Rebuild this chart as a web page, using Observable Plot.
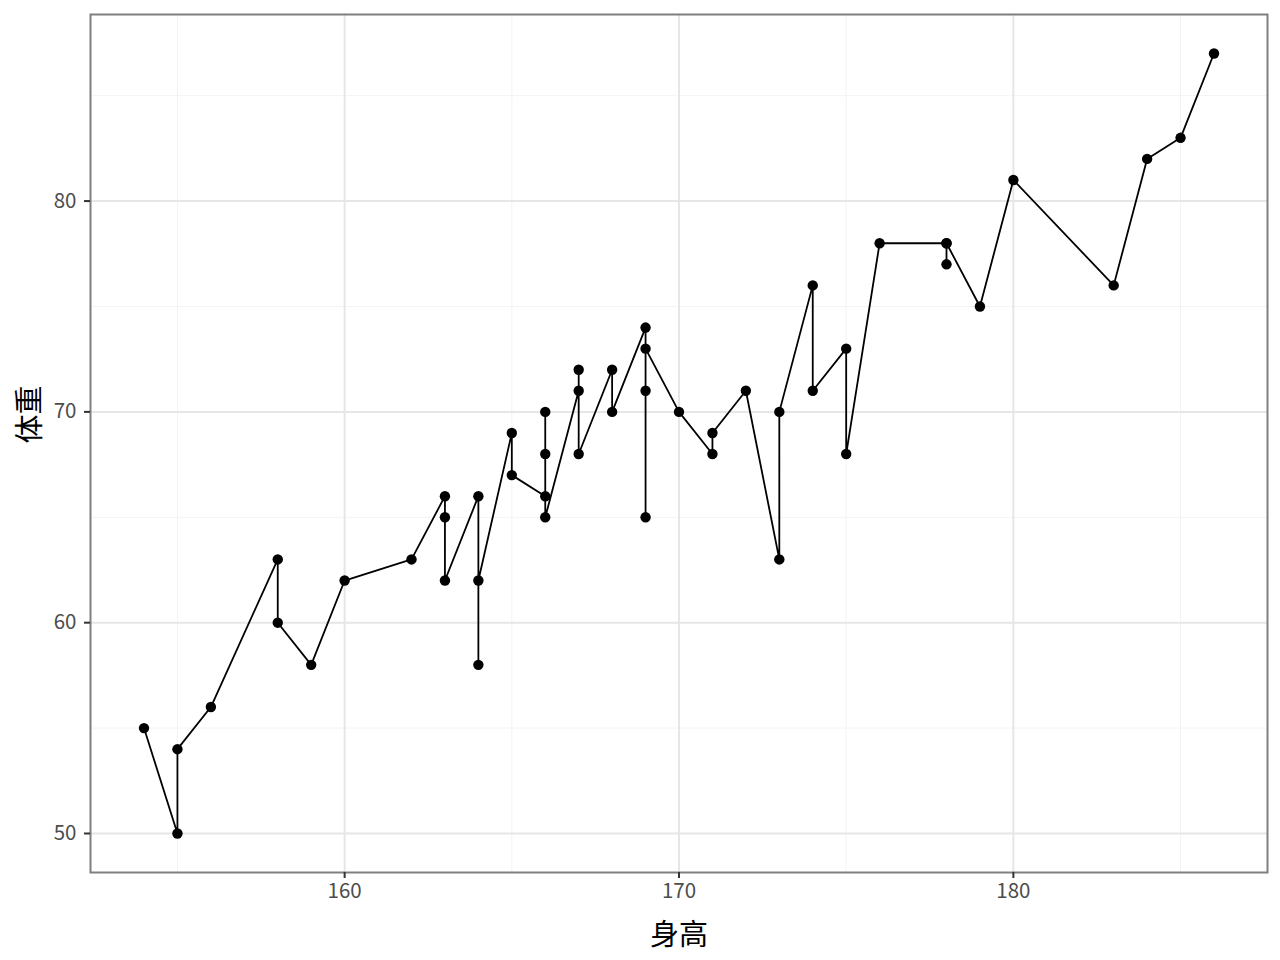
<!DOCTYPE html>
<html>
<head>
<meta charset="utf-8">
<script src="https://cdn.jsdelivr.net/npm/d3@7"></script>
<script src="https://cdn.jsdelivr.net/npm/@observablehq/plot@0.6"></script>
<style>
  html, body { margin: 0; padding: 0; background: #fff; }
  #chart { width: 1280px; height: 960px; }
</style>
</head>
<body>
<div id="chart"></div>
<script>
// 身高 (height) and 体重 (weight), in drawing order
const heights = [154,155,155,156,158,158,159,160,162,163,163,163,164,164,164,165,165,166,166,166,166,167,167,167,168,168,169,169,169,169,170,171,171,172,173,173,174,174,175,175,176,178,178,178,179,180,183,184,185,186];
const weights = [55,50,54,56,63,60,58,62,63,66,65,62,66,58,62,69,67,66,70,68,65,71,72,68,72,70,74,65,71,73,70,68,69,71,63,70,76,71,73,68,78,78,77,78,75,81,76,82,83,87];

const xMajor = [160, 170, 180];
const xMinor = [155, 165, 175, 185];
const yMajor = [50, 60, 70, 80];
const yMinor = [55, 65, 75, 85];
const xTitle = "身高";
const yTitle = "体重";

const data = heights.map((h, i) => ({h, w: weights[i]}));

const xExt = d3.extent(heights), yExt = d3.extent(weights);
const xPad = (xExt[1] - xExt[0]) * 0.05, yPad = (yExt[1] - yExt[0]) * 0.05;

const font = "'Noto Sans CJK SC', 'Noto Sans', sans-serif";

const chart = Plot.plot({
  width: 1280,
  height: 960,
  marginLeft: 90,
  marginRight: 13,
  marginTop: 14,
  marginBottom: 88,
  style: {fontFamily: font, background: "#fff"},
  x: {domain: [xExt[0] - xPad, xExt[1] + xPad]},
  y: {domain: [yExt[0] - yPad, yExt[1] + yPad]},
  marks: [
    Plot.gridX(xMinor, {stroke: "#f3f3f3", strokeOpacity: 1, strokeWidth: 1}),
    Plot.gridY(yMinor, {stroke: "#f3f3f3", strokeOpacity: 1, strokeWidth: 1}),
    Plot.gridX(xMajor, {stroke: "#e6e6e6", strokeOpacity: 1, strokeWidth: 2}),
    Plot.gridY(yMajor, {stroke: "#e6e6e6", strokeOpacity: 1, strokeWidth: 2}),
    Plot.line(data, {x: "h", y: "w", stroke: "black", strokeWidth: 1.8}),
    Plot.dot(data, {x: "h", y: "w", r: 5.2, fill: "black"}),
    Plot.frame({stroke: "#7f7f7f", strokeWidth: 2}),
    Plot.axisX(xMajor, {tickSize: 6, tickPadding: 5, stroke: "#333", fill: "#4d4d4d", strokeWidth: 2, fontSize: 20.5, label: null}),
    Plot.axisY(yMajor, {tickSize: 6, tickPadding: 8, stroke: "#333", fill: "#4d4d4d", strokeWidth: 2, fontSize: 20.5, label: null}),
    Plot.text([xTitle], {frameAnchor: "bottom", dy: 63, lineAnchor: "middle", fontSize: 29, fill: "black"}),
    Plot.text([yTitle], {frameAnchor: "left", dx: -60, rotate: -90, lineAnchor: "middle", fontSize: 29, fill: "black"})
  ]
});
document.getElementById("chart").appendChild(chart);
</script>
</body>
</html>
